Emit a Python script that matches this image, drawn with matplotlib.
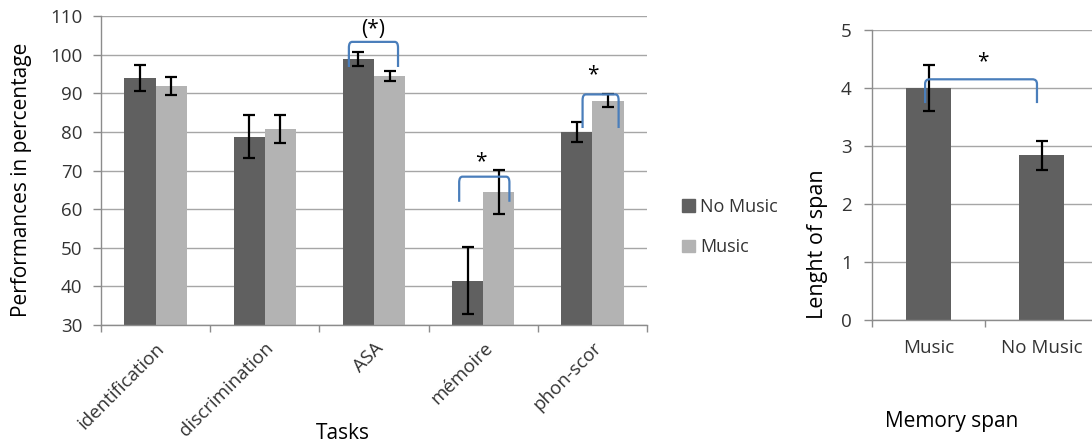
import matplotlib
matplotlib.use("Agg")
import matplotlib.pyplot as plt
import numpy as np
from matplotlib.path import Path
from matplotlib.patches import PathPatch, Patch

plt.rcParams['font.family'] = ['Open Sans', 'DejaVu Sans']

# ---------------- data ----------------
tasks = ["identification", "discrimination", "ASA", "mémoire", "phon-scor"]
no_music = [94.0, 78.8, 98.9, 41.5, 80.0]
no_music_err = [3.3, 5.5, 1.8, 8.7, 2.6]
music = [91.9, 80.8, 94.5, 64.4, 88.1]
music_err = [2.3, 3.6, 1.2, 5.7, 1.6]

span_labels = ["Music", "No Music"]
span_values = [4.0, 2.84]
span_err = [0.4, 0.25]

# significance brackets: (x0, x1, y_top, y_bottom, label, label_x, label_y)
task_brackets = [
    (1.77, 2.22, 103.3, 96.8, "(*)", 1.99, 106.4),
    (2.78, 3.24, 68.4, 61.9, "*", 2.98, 72.2),
    (3.91, 4.24, 89.7, 81.0, "*", 4.00, 94.7),
]
span_brackets = [
    (-0.03, 0.96, 4.15, 3.74, "*", 0.48, 4.45),
]

DARK = "#606060"
LIGHT = "#b3b3b3"
GRID = "#a6a6a6"
SPINE = "#8c8c8c"
BLUE = "#4a7ebb"
TXT = "#333333"

fig = plt.figure(figsize=(10.92, 4.45), dpi=100)


def bracket(ax, x0, x1, yt, yb, rx, ry):
    verts = [(x0, yb), (x0, yt - ry), (x0, yt), (x0 + rx, yt),
             (x1 - rx, yt), (x1, yt), (x1, yt - ry), (x1, yb)]
    codes = [Path.MOVETO, Path.LINETO, Path.CURVE3, Path.CURVE3,
             Path.LINETO, Path.CURVE3, Path.CURVE3, Path.LINETO]
    ax.add_patch(PathPatch(Path(verts, codes), fill=False, edgecolor=BLUE,
                           lw=1.6, zorder=5))


def style_axes(ax):
    for s in ["top", "right"]:
        ax.spines[s].set_visible(False)
    for s in ["left", "bottom"]:
        ax.spines[s].set_color(SPINE)
        ax.spines[s].set_linewidth(1.0)
    ax.yaxis.grid(True, color=GRID, lw=1.0)
    ax.set_axisbelow(True)
    ax.tick_params(axis="y", colors=SPINE, labelcolor=TXT, labelsize=13.5,
                   length=5.5, width=1.0, pad=8)
    ax.tick_params(axis="x", which="major", colors=SPINE, length=5, width=1.0,
                   labelbottom=False)
    ax.tick_params(axis="x", which="minor", length=0, labelcolor=TXT,
                   labelsize=13.5)


# ---------------- left chart ----------------
ax1 = fig.add_axes([101 / 1092, 120 / 445, 546 / 1092, 309 / 445])
x = np.arange(len(tasks))
w = 0.285
ekw = dict(ecolor="black", elinewidth=1.6, capsize=4, capthick=1.6)
ax1.bar(x - w / 2, no_music, w, bottom=0, color=DARK, yerr=no_music_err,
        error_kw=ekw, label="No Music", zorder=2)
ax1.bar(x + w / 2, music, w, bottom=0, color=LIGHT, yerr=music_err,
        error_kw=ekw, label="Music", zorder=2)
ax1.set_xlim(-0.5, len(tasks) - 0.5)
ax1.set_ylim(30, 110)
ax1.set_yticks(np.arange(30, 111, 10))
ax1.set_xticks(np.arange(-0.5, len(tasks), 1.0))
ax1.set_xticks(x, minor=True)
ax1.set_xticklabels(tasks, minor=True, rotation=45, ha="right",
                    rotation_mode="anchor")
style_axes(ax1)
for lab in ax1.get_xticklabels(minor=True):
    lab.set_y(-0.03)
ax1.set_ylabel("Performances in percentage", fontsize=15, color="black",
               va="center")
ax1.yaxis.set_label_coords(-0.145, 0.47)
ax1.set_xlabel("Tasks", fontsize=15, color="black", va="center")
ax1.xaxis.set_label_coords(0.443, -0.35)
for (x0, x1_, yt, yb, lab, lx, ly) in task_brackets:
    bracket(ax1, x0, x1_, yt, yb, 0.03, 1.5)
    ax1.text(lx, ly, lab, ha="center", va="center", fontsize=15, color="black")

handles = [Patch(color=DARK, label="No Music"), Patch(color=LIGHT, label="Music")]
fig.legend(handles=handles, loc="center left", bbox_to_anchor=(666 / 1092, 1 - 227 / 445),
           frameon=False, fontsize=13, handlelength=0.7, handleheight=0.7,
           handletextpad=0.3, labelspacing=1.25, labelcolor=TXT)

# ---------------- right chart ----------------
ax2 = fig.add_axes([872 / 1092, 125 / 445, 226 / 1092, 290 / 445])
x2 = np.arange(len(span_labels))
ax2.bar(x2, span_values, 0.39, color=DARK, yerr=span_err, error_kw=ekw, zorder=2)
ax2.set_xlim(-0.5, len(span_labels) - 0.5)
ax2.set_ylim(0, 5)
ax2.set_yticks(np.arange(0, 6, 1))
ax2.set_xticks(np.arange(-0.5, len(span_labels), 1.0))
ax2.set_xticks(x2, minor=True)
ax2.set_xticklabels(span_labels, minor=True)
style_axes(ax2)
ax2.tick_params(axis="y", pad=9)
ax2.tick_params(axis="x", which="minor", pad=14)
ax2.set_ylabel("Lenght of span", fontsize=15.5, color="black", va="center")
ax2.yaxis.set_label_coords(-0.243, 0.262)
ax2.set_xlabel("Memory span", fontsize=15, color="black", va="center")
ax2.xaxis.set_label_coords(0.354, -0.35)
for (x0, x1_, yt, yb, lab, lx, ly) in span_brackets:
    bracket(ax2, x0, x1_, yt, yb, 0.04, 0.08)
    ax2.text(lx, ly, lab, ha="center", va="center", fontsize=15, color="black")

fig.savefig("out.png", dpi=100)
